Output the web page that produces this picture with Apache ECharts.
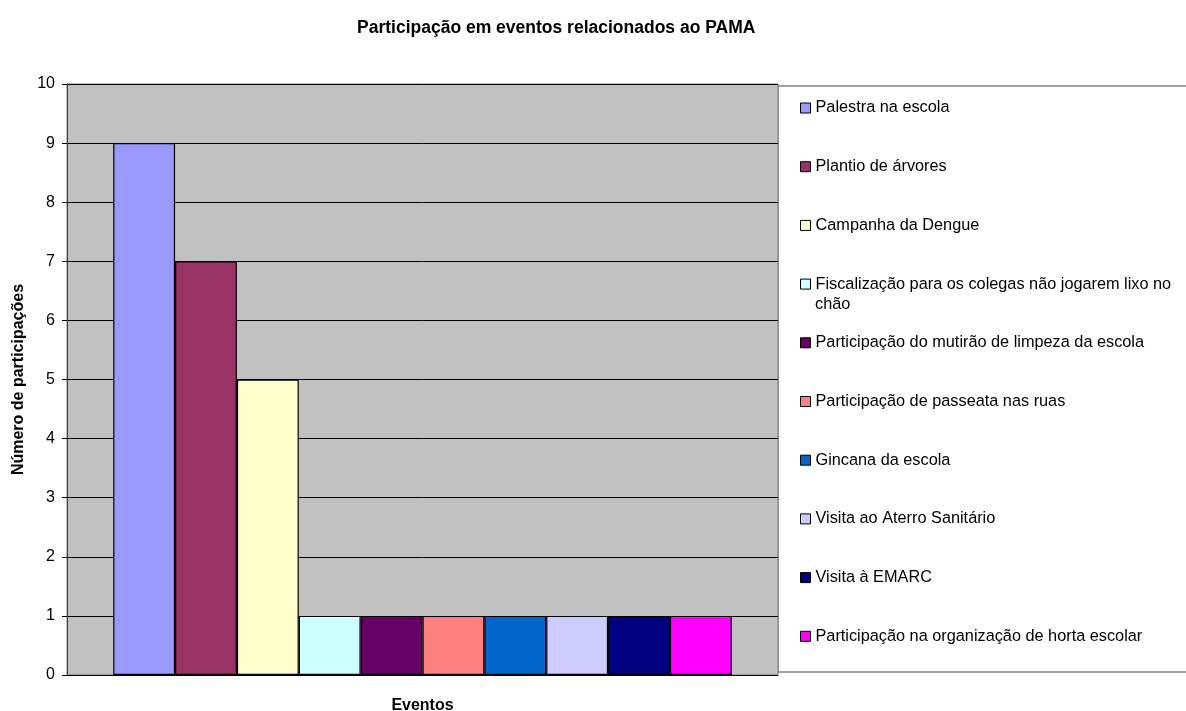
<!DOCTYPE html>
<html>
<head>
<meta charset="utf-8">
<script src="https://cdn.jsdelivr.net/npm/echarts@6/dist/echarts.min.js"></script>
<style>
html,body{margin:0;padding:0;background:#fff;}
#c{width:1186px;height:711px;}
</style>
</head>
<body>
<div id="c"></div>
<script>
const title = 'Participação em eventos relacionados ao PAMA';
const yAxisName = 'Número de participações';
const xAxisName = 'Eventos';
const categories = [''];
const seriesNames = [
  'Palestra na escola',
  'Plantio de árvores',
  'Campanha da Dengue',
  'Fiscalização para os colegas não jogarem lixo no chão',
  'Participação do mutirão de limpeza da escola',
  'Participação de passeata nas ruas',
  'Gincana da escola',
  'Visita ao Aterro Sanitário',
  'Visita à EMARC',
  'Participação na organização de horta escolar'
];
const seriesValues = [9, 7, 5, 1, 1, 1, 1, 1, 1, 1];
const seriesColors = ['#9999FF','#993366','#FFFFCC','#CCFFFF','#660066','#FF8080','#0066CC','#CCCCFF','#000080','#FF00FF'];
// legend label line breaks (the long name wraps onto a second line)
const wrapIndex = 3;
const wrapFirst = 'Fiscalização para os colegas não jogarem lixo no';
const wrapSecond = 'chão';

const FONT = '"Liberation Sans", Arial, sans-serif';
const LEG_FS = 16.3;
const chart = echarts.init(document.getElementById('c'), null, {renderer: 'canvas'});

const legendTop = i => 100 + i * 58.7;

const legends = seriesNames.map((name, i) => ({
  data: [name],
  orient: 'vertical',
  left: 800,
  top: legendTop(i),
  padding: 0,
  itemWidth: 10,
  itemHeight: 10,
  icon: 'rect',
  selectedMode: false,
  formatter: i === wrapIndex ? () => wrapFirst : undefined,
  itemStyle: {borderColor: '#000', borderWidth: 1},
  textStyle: {fontFamily: FONT, fontSize: LEG_FS, color: '#000'}
}));

chart.setOption({
  animation: false,
  backgroundColor: '#fff',
  title: {
    text: title,
    left: 357,
    top: 19,
    padding: 0,
    textStyle: {fontFamily: FONT, fontSize: 17.5, fontWeight: 'bold', color: '#000'}
  },
  graphic: [{
    type: 'rect',
    shape: {x: 778, y: 86, width: 420, height: 586},
    style: {fill: '#fff', stroke: '#404040', lineWidth: 1},
    z: -1
  }, {
    type: 'text',
    left: 815,
    top: legendTop(wrapIndex) + 5 + 15,
    style: {text: wrapSecond, font: LEG_FS + 'px ' + FONT, fill: '#000'}
  }],
  legend: legends,
  grid: {
    left: 67, top: 84, right: 408, bottom: 36,
    containLabel: false,
    outerBoundsMode: 'none',
    show: true,
    backgroundColor: '#C0C0C0',
    borderColor: '#808080',
    borderWidth: 1
  },
  xAxis: {
    type: 'category',
    data: categories,
    name: xAxisName,
    nameLocation: 'middle',
    nameGap: 23,
    nameTextStyle: {fontFamily: FONT, fontSize: 16, fontWeight: 'bold', color: '#000'},
    axisLine: {lineStyle: {color: '#000', width: 1}},
    axisTick: {show: false},
    axisLabel: {show: false}
  },
  yAxis: {
    type: 'value',
    min: 0, max: 10, interval: 1,
    name: yAxisName,
    nameLocation: 'middle',
    nameRotate: 90,
    nameGap: 39,
    nameTextStyle: {fontFamily: FONT, fontSize: 16, fontWeight: 'bold', color: '#000'},
    axisLine: {show: true, lineStyle: {color: '#404040', width: 1}},
    axisTick: {show: true, length: 5, lineStyle: {color: '#000'}},
    axisLabel: {fontFamily: FONT, fontSize: 16, color: '#000', margin: 12},
    splitLine: {lineStyle: {color: '#000', width: 1}}
  },
  series: seriesNames.map((name, i) => ({
    type: 'bar',
    name: name,
    data: [seriesValues[i]],
    barGap: '0%',
    barCategoryGap: '13%',
    itemStyle: {color: seriesColors[i], borderColor: '#000', borderWidth: 1.2}
  }))
});
</script>
</body>
</html>
